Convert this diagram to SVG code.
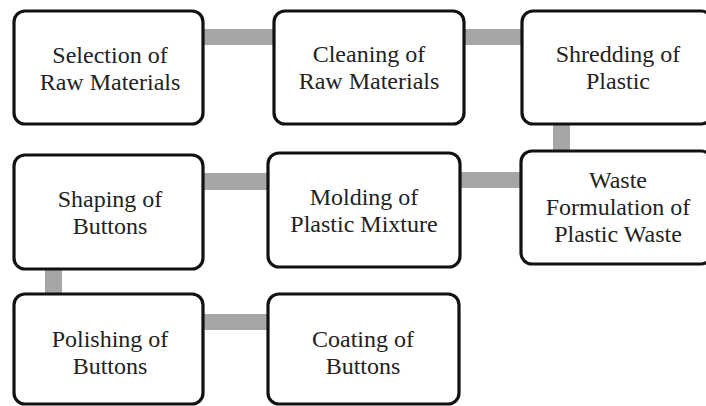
<svg xmlns="http://www.w3.org/2000/svg" width="706" height="406" viewBox="0 0 706 406">
<style>
.box{fill:#fff;stroke:#111;stroke-width:3.2}
.lbl{font-family:"Times New Roman",Tinos,"Liberation Serif","DejaVu Serif","Noto Serif",serif;font-size:24px;fill:#222;text-anchor:middle}
.con{fill:#a6a6a6}
</style>
<rect width="706" height="406" fill="#fff"/>
<g id="connectors">
<rect class="con" x="200" y="29" width="76" height="16"/>
<rect class="con" x="462" y="29" width="62" height="16"/>
<rect class="con" x="553" y="122" width="17" height="30"/>
<rect class="con" x="458" y="172" width="64" height="16"/>
<rect class="con" x="200" y="173" width="70" height="17"/>
<rect class="con" x="45" y="267" width="17" height="28"/>
<rect class="con" x="200" y="314" width="70" height="16"/>
</g>
<g id="n1"><rect class="box" x="14" y="11" width="189" height="113" rx="11"/>
<text class="lbl" x="110" y="63">Selection of</text><text class="lbl" x="110" y="90">Raw Materials</text></g>
<g id="n2"><rect class="box" x="274" y="11" width="190" height="113" rx="11"/>
<text class="lbl" x="369" y="62">Cleaning of</text><text class="lbl" x="369" y="89">Raw Materials</text></g>
<g id="n3"><rect class="box" x="522" y="11" width="190" height="113" rx="11"/>
<text class="lbl" x="618" y="62">Shredding of</text><text class="lbl" x="618" y="89">Plastic</text></g>
<g id="n4"><rect class="box" x="521" y="151" width="191" height="113" rx="11"/>
<text class="lbl" x="618" y="188">Waste</text><text class="lbl" x="618" y="215">Formulation of</text><text class="lbl" x="618" y="242">Plastic Waste</text></g>
<g id="n5"><rect class="box" x="268" y="153" width="192" height="114" rx="11"/>
<text class="lbl" x="364" y="205">Molding of</text><text class="lbl" x="364" y="232">Plastic Mixture</text></g>
<g id="n6"><rect class="box" x="14" y="155" width="189" height="114" rx="11"/>
<text class="lbl" x="110" y="207">Shaping of</text><text class="lbl" x="110" y="234">Buttons</text></g>
<g id="n7"><rect class="box" x="14" y="294" width="189" height="110" rx="11"/>
<text class="lbl" x="110" y="347">Polishing of</text><text class="lbl" x="110" y="374">Buttons</text></g>
<g id="n8"><rect class="box" x="268" y="294" width="191" height="110" rx="11"/>
<text class="lbl" x="363" y="347">Coating of</text><text class="lbl" x="363" y="374">Buttons</text></g>
</svg>
